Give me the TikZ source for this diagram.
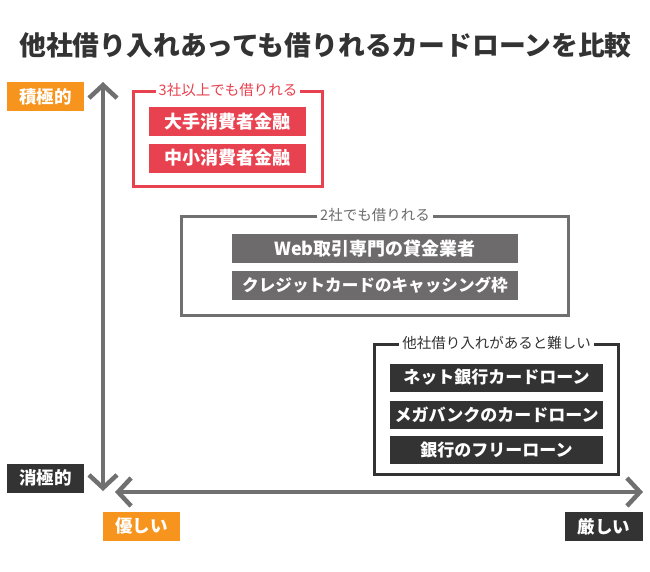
\documentclass[tikz,border=0pt]{standalone}
\usepackage{fontspec}
\setmainfont{Noto Sans CJK JP}
\usetikzlibrary{arrows.meta}
\definecolor{cred}{HTML}{E8414F}
\definecolor{corange}{HTML}{F7941D}
\definecolor{cdark}{HTML}{333333}
\definecolor{cgrayfill}{HTML}{6D6B6C}
\definecolor{caxis}{HTML}{707070}
\begin{document}
\begin{tikzpicture}[x=1pt,y=-1pt,
  item/.style={minimum height=29pt, inner sep=0pt, text=white,
    font=\bfseries\fontsize{18pt}{18pt}\selectfont},
  itemsmall/.style={item, font=\bfseries\fontsize{17pt}{17pt}\selectfont},
  tag/.style={minimum width=77pt, minimum height=29pt, inner sep=0pt, text=white,
    font=\bfseries\fontsize{17.5pt}{17.5pt}\selectfont},
  group/.style={line width=3pt, inner sep=0pt, fill=none},
  grouplabel/.style={fill=white, inner xsep=3pt, inner ysep=1pt,
    font=\fontsize{14.5pt}{14.5pt}\selectfont},
  axis/.style={draw=caxis, line width=4.5pt,
    {Straight Barb[length=13pt,width=28pt,line width=4.5pt]}-{Straight Barb[length=13pt,width=28pt,line width=4.5pt]}}
]
\useasboundingbox (0,0) rectangle (650,571);

% title
\node[text=cdark, font=\bfseries\fontsize{26.8pt}{26.8pt}\selectfont] (title) at (325.5,45) {他社借り入れあっても借りれるカードローンを比較};

% axes
\coordinate (ytop) at (103,82);
\coordinate (ybot) at (103,491);
\coordinate (xleft) at (115,492);
\coordinate (xright) at (643,492);
\draw[axis] (ybot) -- (ytop);
\draw[axis] (xleft) -- (xright);

% axis tags
\node[tag, fill=corange] (pos) at (45.5,96.5) {積極的};
\node[tag, fill=cdark] (neg) at (45.5,478) {消極的};
\node[tag, fill=corange] (easy) at (141.5,526) {優しい};
\node[tag, fill=cdark, minimum width=78pt] (hard) at (604,526.5) {厳しい};

% red group
\node[group, draw=cred, minimum width=189pt, minimum height=95pt] (g1) at (228,139) {};
\node[grouplabel, text=cred] (l1) at (g1.north) {3社以上でも借りれる};
\node[item, fill=cred, minimum width=157pt] (a1) at (227.5,121.5) {大手消費者金融};
\node[item, fill=cred, minimum width=157pt] (a2) at (227.5,158) {中小消費者金融};

% gray group
\node[group, draw=caxis, minimum width=387pt, minimum height=99pt] (g2) at (375,266) {};
\node[grouplabel, text=cgrayfill] (l2) at (g2.north) {2社でも借りれる};
\node[item, fill=cgrayfill, minimum width=286pt] (b1) at (375,248.5) {Web取引専門の貸金業者};
\node[item, fill=cgrayfill, minimum width=286pt, font=\bfseries\fontsize{16.6pt}{16.6pt}\selectfont] (b2) at (375,285) {クレジットカードのキャッシング枠};

% dark group
\node[group, draw=cdark, minimum width=244pt, minimum height=130pt] (g3) at (496.5,409.5) {};
\node[grouplabel, text=cdark] (l3) at (g3.north) {他社借り入れがあると難しい};
\node[itemsmall, fill=cdark, minimum width=213pt, minimum height=28pt] (c1) at (496.5,377.5) {ネット銀行カードローン};
\node[itemsmall, fill=cdark, minimum width=213pt, minimum height=28pt] (c2) at (496.5,414.5) {メガバンクのカードローン};
\node[itemsmall, fill=cdark, minimum width=213pt, minimum height=28pt] (c3) at (496.5,450) {銀行のフリーローン};
\end{tikzpicture}
\end{document}
